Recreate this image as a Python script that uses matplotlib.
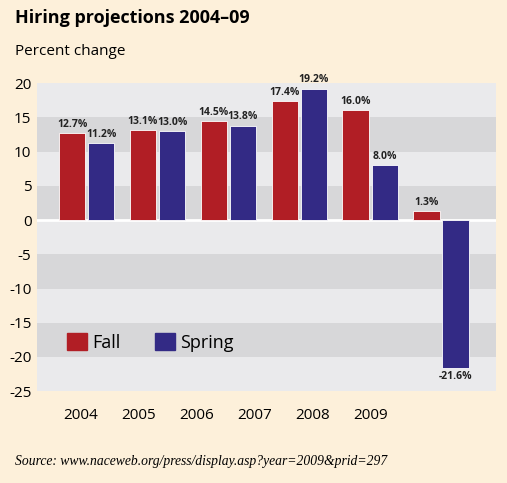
import numpy as np
import matplotlib
matplotlib.use("Agg")
from matplotlib import pyplot as plt
from matplotlib.patches import Patch

years = ["2004", "2005", "2006", "2007", "2008", "2009"]
fall = [12.7, 13.1, 14.5, 17.4, 16.0, 1.3]
spring = [11.2, 13.0, 13.8, 19.2, 8.0, -21.6]
yticks = [20, 15, 10, 5, 0, -5, -10, -15, -20, -25]

bg = "#fdf0da"
red = "#b11e25"
blue = "#332a85"
light = "#eaeaec"
dark = "#d7d7d9"

plt.rcParams["font.family"] = ["Open Sans", "DejaVu Sans"]

fig = plt.figure(figsize=(5.07, 4.83), dpi=100, facecolor=bg)
ax = fig.add_axes([0.073, 0.190, 0.905, 0.638])
ax.set_facecolor(light)

# alternating grey bands
for lo in range(-25, 20, 5):
    if (lo // 5) % 2 == 0:
        ax.axhspan(lo, lo + 5, color=dark, lw=0, zorder=0)
ax.axhline(0, color="white", lw=2, zorder=1)

x = np.arange(len(years))
w = 0.375
off = 0.205
b1 = ax.bar(x - off, fall, w, color=red, edgecolor="white", linewidth=0.6, zorder=2)
b2 = ax.bar(x + off, spring, w, color=blue, edgecolor="white", linewidth=0.6, zorder=2)

for bars, vals in ((b1, fall), (b2, spring)):
    for r, v in zip(bars, vals):
        cx = r.get_x() + r.get_width() / 2
        if v >= 0:
            ax.text(cx, v + 0.45, "%.1f%%" % v, ha="center", va="bottom",
                    fontsize=7.5, fontweight="bold", color="#222222")
        else:
            ax.text(cx, v - 0.45, "%.1f%%" % v, ha="center", va="top",
                    fontsize=7.5, fontweight="bold", color="#222222")

ax.set_xlim(-0.70, 5.77)
ax.set_ylim(-25, 20)
ax.set_yticks(yticks)
ax.set_yticklabels([str(t) for t in yticks], fontsize=11)
# year labels sit on their own spacing, as in the original artwork
ax.set_xticks(np.arange(len(years)) * 0.817 - 0.085)
ax.set_xticklabels(years, fontsize=11)
ax.tick_params(length=0, pad=4)
ax.tick_params(axis="x", pad=12)
for s in ax.spines.values():
    s.set_visible(False)

leg = ax.legend([Patch(color=red), Patch(color=blue)], ["Fall", "Spring"],
                loc="center left", bbox_to_anchor=(0.065, 0.159), ncol=2,
                frameon=False, fontsize=13, handlelength=1.1, handleheight=1.1,
                handletextpad=0.3, columnspacing=1.9, borderpad=0,
                borderaxespad=0)

fig.text(0.030, 0.962, "Hiring projections 2004\u201309", fontsize=13,
         fontweight="bold", ha="left", va="center")
fig.text(0.030, 0.893, "Percent change", fontsize=11, ha="left", va="center")
fig.text(0.030, 0.045, "Source: www.naceweb.org/press/display.asp?year=2009&prid=297",
         fontsize=9.8, fontstyle="italic", family="Liberation Serif",
         ha="left", va="center")

fig.savefig("out.png", dpi=100, facecolor=bg)
